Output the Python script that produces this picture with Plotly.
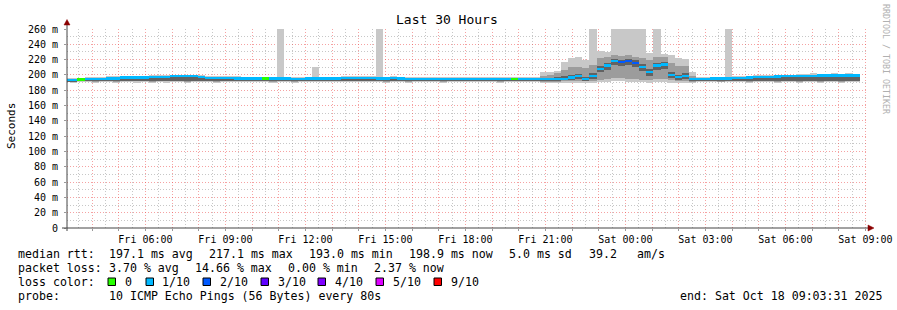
import plotly.graph_objects as go
import pandas as pd

# ---------------- data (16-minute bins, values in ms) ----------------
BIN_START = "2025-10-17 02:55:00"
BIN_MINUTES = 16
X_RANGE = ["2025-10-17 03:03:31", "2025-10-18 09:03:31"]

med = [193.5,193.5,194.3,194.6,194.6,195.0,195.5,195.5,196.5,196.5,196.5,196.7,197.5,197.5,197.5,198.3,
       198.5,198.5,198.3,197.5,196.0,195.8,195.8,195.8,195.5,195.5,195.5,195.5,195.5,195.5,195.2,195.5,
       194.5,194.5,195.5,195.5,195.5,195.5,195.5,195.8,196.2,196.2,196.0,195.8,195.5,195.5,196.0,195.5,
       194.5,194.5,195.0,195.0,194.8,194.8,194.8,194.8,195.0,195.0,195.0,195.0,194.8,194.8,195.0,195.0,
       194.5,194.5,194.5,
       194.5,194.5,194.5,194.5,196.5,198.5,194.5,198.5,208.0,212.3,218.3,217.0,218.3,215.8,210.0,203.5,
       212.3,213.5,200.0,197.0,198.5,194.8,
       194.8,195.0,195.2,195.3,195.5,195.8,196.0,196.8,197.2,197.3,197.5,198.0,198.5,198.5,198.7,198.7,
       198.8,199.0,199.2,199.3,199.3,199.5,199.3]

lo = [190.5,190.0,190.5,190.5,190.0,190.5,190.5,190.0,190.5,190.5,190.0,190.5,190.0,190.5,190.0,190.5,
      190.5,190.0,190.5,190.5,190.5,190.0,190.5,190.5,190.5,190.5,190.5,190.5,190.5,190.0,190.5,190.5,
      190.0,190.5,190.5,190.5,190.5,190.5,190.5,190.5,190.5,190.5,190.5,190.5,190.5,190.0,190.5,190.5,
      190.0,190.5,190.5,190.5,190.5,190.0,190.5,190.5,190.5,190.5,190.5,190.5,190.5,190.0,190.5,190.5,
      190.5,190.5,190.5,
      190.0,190.0,190.0,190.0,190.0,190.0,190.0,190.0,191.0,191.0,192.0,192.0,191.0,191.0,191.0,190.0,
      191.0,191.0,190.0,190.0,190.0,190.0,
      190.5,190.5,190.5,190.5,190.5,190.5,190.5,190.0,190.5,190.5,190.5,190.0,190.5,190.5,190.0,190.5,
      190.5,190.0,190.5,190.5,190.0,190.5,190.5]

mlo = [191.0,191.0,191.5,191.5,191.0,191.5,191.5,191.0,191.5,191.5,191.5,191.5,191.0,191.5,191.5,191.5,
       191.5,191.0,191.5,191.5,191.5,191.0,191.5,191.5,191.5,191.5,191.5,191.5,191.5,191.0,191.5,191.5,
       191.0,191.5,191.5,191.5,191.5,191.5,191.5,191.5,191.5,191.5,191.5,191.5,191.5,191.0,191.5,191.5,
       191.0,191.5,191.5,191.5,191.5,191.0,191.5,191.5,191.5,191.5,191.5,191.5,191.5,191.0,191.5,191.5,
       191.5,191.5,191.5,
       191.0,191.0,191.0,191.5,192.0,192.0,191.5,192.0,194.0,195.0,196.0,196.0,195.0,195.0,194.0,193.0,
       195.0,195.0,193.0,192.0,192.0,191.0,
       191.5,191.5,191.5,191.0,191.5,191.5,191.5,191.0,191.5,191.5,191.5,191.0,191.5,191.5,191.0,191.5,
       191.5,191.0,191.5,191.5,191.0,191.5,191.5]

ilo = [192.0,191.5,192.5,192.5,192.0,192.5,192.0,192.5,192.0,192.5,192.0,192.5,192.5,192.0,192.5,192.5,
       192.0,192.5,192.0,192.5,192.5,192.0,192.5,192.5,192.0,192.5,192.5,192.0,192.5,192.5,192.0,192.5,
       192.5,192.0,192.5,192.5,192.5,192.0,192.5,192.5,192.5,192.5,192.5,192.5,192.5,192.0,192.5,192.5,
       192.0,192.5,192.5,192.5,192.5,192.0,192.5,192.5,192.5,192.5,192.5,192.5,192.5,192.0,192.5,192.5,
       192.5,192.5,192.5,
       192.5,192.5,192.5,193.0,194.0,195.0,192.5,195.0,204.0,207.0,213.0,212.0,213.0,210.0,205.0,199.0,
       207.0,208.0,196.0,194.0,195.0,192.5,
       192.5,192.5,192.0,192.5,192.5,192.5,192.0,192.5,192.5,192.5,192.0,192.5,192.5,192.0,192.5,192.5,
       192.5,192.0,192.5,192.5,192.0,192.5,192.5]

ihi = [194.0,194.0,194.8,195.1,195.1,195.5,196.0,196.0,197.0,197.0,197.0,197.2,198.0,198.0,198.0,198.8,
       199.0,199.0,198.8,198.0,196.5,196.3,196.3,196.3,196.0,196.0,196.0,196.0,196.0,196.0,195.7,196.0,
       195.0,195.0,196.0,196.0,196.0,196.0,196.0,196.3,196.7,196.7,196.5,196.3,196.0,196.0,196.5,196.0,
       195.0,195.0,195.5,195.5,195.3,195.3,195.3,195.3,195.5,195.5,195.5,195.5,195.3,195.3,195.5,195.5,
       195.0,195.0,195.0,
       196.0,196.0,197.0,198.0,199.5,201.0,197.0,202.0,212.0,216.0,221.0,220.0,221.0,219.0,214.0,208.0,
       216.0,217.0,204.0,200.0,202.0,196.5,
       195.3,195.5,195.7,195.8,196.0,196.3,196.5,197.3,197.7,197.8,198.0,198.5,199.0,199.0,199.2,199.2,
       199.3,199.5,199.7,199.8,199.8,200.0,199.8]

mhi = [194.5,194.5,195.3,195.6,195.6,196.0,196.5,196.5,197.5,197.5,197.5,197.7,198.5,198.5,198.5,199.3,
       199.5,199.5,199.3,198.5,197.0,196.8,196.8,196.8,196.5,196.5,196.5,196.5,196.5,196.5,196.2,196.5,
       195.5,195.5,196.5,197.0,196.5,196.5,196.5,196.8,197.2,197.2,197.0,196.8,196.5,196.5,197.0,196.5,
       195.5,195.5,196.0,196.0,195.8,195.8,195.8,195.8,196.0,196.0,196.0,196.0,195.8,195.8,196.0,196.0,
       195.5,195.5,195.5,
       199.0,200.0,202.0,207.0,210.0,211.0,209.0,213.0,222.0,224.0,226.0,225.0,226.0,224.0,222.0,219.0,
       223.0,223.0,216.0,212.0,212.0,199.0,
       195.8,196.0,196.2,196.3,196.5,196.8,197.0,197.8,198.2,198.3,198.5,199.0,199.5,199.5,199.7,199.7,
       200.5,200.0,200.2,200.8,200.3,200.8,200.3]

hi = [195.5,196.0,196.5,197.0,197.0,197.5,198.0,198.0,198.5,198.5,198.5,199.0,199.5,199.5,200.0,200.5,
      200.5,200.5,200.0,199.5,198.5,198.0,198.0,198.0,198.0,197.5,197.5,197.5,197.5,197.5,300.0,197.5,
      197.0,197.0,197.5,210.0,197.5,197.5,197.5,198.0,198.5,198.5,198.0,198.0,300.0,197.5,198.0,197.5,
      197.0,197.0,197.0,197.5,197.0,197.0,197.0,197.0,197.0,197.0,197.5,197.0,197.0,197.0,197.0,197.0,
      197.0,197.0,197.5,
      203.5,203.5,205.5,217.0,221.5,223.0,220.0,300.0,231.0,230.0,300.0,300.0,300.0,300.0,300.0,229.0,
      300.0,227.0,226.0,222.0,221.0,203.5,
      197.0,197.0,197.5,197.5,300.0,198.0,198.5,199.0,199.5,199.5,199.8,200.0,200.5,200.5,200.7,200.7,
      202.5,201.0,201.2,202.5,201.3,202.5,201.3]

# loss per bin (pings lost out of 10)
loss = [1,1,0,1,1,1,1,1,1,1,1,1,1,1,1,1,
        1,1,1,1,1,1,1,1,1,1,1,1,0,1,1,1,
        1,1,1,1,1,1,1,1,1,1,1,1,1,1,1,1,
        1,1,1,1,1,1,1,1,1,1,1,1,1,1,1,0,
        1,1,1,1,1,1,1,1,1,1,1,1,1,1,2,2,
        2,1,1,1,1,1,1,1,1,1,1,1,1,1,1,1,
        1,1,1,1,1,1,1,1,1,1,1,1,1,1,1,1]

loss_levels = ["0", "1/10", "2/10", "3/10", "4/10", "5/10", "9/10"]
loss_values = [0, 1, 2, 3, 4, 5, 9]
loss_colors = ["#26ff00", "#00b8ff", "#0059ff", "#5e00ff", "#7e00ff", "#dd00ff", "#ff0000"]

y_ticks = [0, 20, 40, 60, 80, 100, 120, 140, 160, 180, 200, 220, 240, 260]
y_ticktext = ["0"] + [f"{v} m" for v in y_ticks[1:]]

title = "Last 30 Hours"
line1 = [("median rtt:", 16), ("197.1 ms avg", 107), ("217.1 ms max", 207),
         ("193.0 ms min", 307), ("198.9 ms now", 407), ("5.0 ms sd", 507),
         ("39.2", 587), ("am/s", 635)]
line2 = [("packet loss:", 16), ("3.70 % avg", 107), ("14.66 % max", 193),
         ("0.00 % min", 286), ("2.37 % now", 372)]
line4 = [("probe:", 16), ("10 ICMP Echo Pings (56 Bytes) every 80s", 107),
         ("end: Sat Oct 18 09:03:31 2025", 678)]

# ---------------- layout geometry (pixels) ----------------
W, H = 897, 310
PL, PR, PT, PB = 67, 867, 29, 228
FONT = "DejaVu Sans Mono"


def px(x, y):
    return (x - PL) / (PR - PL), (PB - y) / (PB - PT)


t0 = pd.Timestamp(BIN_START)
times = [t0 + pd.Timedelta(minutes=BIN_MINUTES * i) for i in range(len(med))]
width_ms = BIN_MINUTES * 60 * 1000

fig = go.Figure()

layers = [(lo, hi, "#c8c8c8"), (mlo, mhi, "#9c9c9c"), (ilo, ihi, "#626262")]
for low, high, col in layers:
    fig.add_trace(go.Bar(
        x=times, y=[h - l for l, h in zip(low, high)], base=low,
        width=width_ms, offset=0,
        marker=dict(color=col, line=dict(width=0)),
        hoverinfo="skip", showlegend=False))

cmap = dict(zip(loss_values, loss_colors))
band = 3.2
fig.add_trace(go.Bar(
    x=times, y=[band] * len(med), base=[m - band / 2 for m in med],
    width=width_ms, offset=0,
    marker=dict(color=[cmap[v] for v in loss], line=dict(width=0)),
    hoverinfo="skip", showlegend=False))

# x ticks: grid every hour, labels every 3 hours
hours = pd.date_range("2025-10-17 04:00", "2025-10-18 09:00", freq="1h")
xt_text = [h.strftime("%a %H:%M") if h.hour % 3 == 0 else "" for h in hours]

MAJ = "rgba(235,70,70,0.5)"
MIN = "rgba(130,130,130,0.45)"
DASH = "1px,2px"

fig.update_layout(
    width=W, height=H, autosize=False,
    margin=dict(l=PL, r=W - PR, t=PT, b=H - PB, pad=0, autoexpand=False),
    paper_bgcolor="white", plot_bgcolor="white",
    barmode="overlay", bargap=0,
    showlegend=False,
    font=dict(family=FONT, size=10, color="#000"),
    xaxis=dict(
        type="date", range=X_RANGE, automargin=False,
        tickmode="array", tickvals=list(hours), ticktext=xt_text,
        showgrid=True, gridcolor=MAJ, griddash=DASH, gridwidth=1,
        minor=dict(dtick=3600000, tick0="2025-10-17 00:30", showgrid=True,
                   gridcolor=MIN, griddash=DASH, gridwidth=1, ticks=""),
        ticks="outside", ticklen=2, tickcolor="#999",
        showline=False, zeroline=False,
        tickfont=dict(family=FONT, size=10, color="#000"),
        fixedrange=True,
    ),
    yaxis=dict(
        range=[0, 260], tickmode="array", tickvals=y_ticks, ticktext=y_ticktext,
        automargin=False,
        showgrid=True, gridcolor=MAJ, griddash=DASH, gridwidth=1,
        minor=dict(dtick=20, tick0=10, showgrid=True, gridcolor=MIN,
                   griddash=DASH, gridwidth=1, ticks=""),
        ticks="outside", ticklen=2, tickcolor="#999",
        ticklabelstandoff=4,
        showline=False, zeroline=False,
        tickfont=dict(family=FONT, size=10, color="#000"),
        fixedrange=True,
    ),
)

ann = []


def add_text(text, x, y, size=11.6, xanchor="left", color="#000", angle=0):
    xp, yp = px(x, y)
    ann.append(dict(text=text.replace(" ", "\u00a0"), x=xp, y=yp, xref="paper", yref="paper",
                    xanchor=xanchor, yanchor="middle", showarrow=False, textangle=angle,
                    font=dict(family=FONT, size=size, color=color)))


add_text(title, 447, 19, size=13, xanchor="center")
add_text("Seconds", 11, 126, size=11, xanchor="center", angle=-90)
add_text("RRDTOOL / TOBI OETIKER", 886, 59, size=8.3, xanchor="center", color="#b0b0b0", angle=90)

for txt, x in line1:
    add_text(txt, x, 254)
for txt, x in line2:
    add_text(txt, x, 268)
add_text("loss color:", 16, 282)
sq_x = [108, 146, 203, 261, 318, 376, 434]
lab_x = [123, 160, 218, 276, 333, 391, 449]
shapes = []
for lbl, col, sx, lx in zip(loss_levels, loss_colors, sq_x, lab_x):
    add_text(lbl, lx, 282)
    x0, y0 = px(sx, 285.5)
    x1, y1 = px(sx + 7.5, 278)
    shapes.append(dict(type="rect", xref="paper", yref="paper", x0=x0, y0=y0, x1=x1, y1=y1,
                       fillcolor=col, line=dict(color="#000", width=1)))
for txt, x in line4:
    add_text(txt, x, 296)

# axis lines with arrows
AX = "#444"
xa, ya = px(PL, 231)
xb, yb = px(PL, 24)
shapes.append(dict(type="line", xref="paper", yref="paper", x0=xa, y0=ya, x1=xb, y1=yb,
                   line=dict(color=AX, width=1)))
xa, ya = px(62, PB)
xb, yb = px(870, PB)
shapes.append(dict(type="line", xref="paper", yref="paper", x0=xa, y0=ya, x1=xb, y1=yb,
                   line=dict(color=AX, width=1)))


def tri(pts):
    p = [px(a, b) for a, b in pts]
    return "M {} {} L {} {} L {} {} Z".format(p[0][0], p[0][1], p[1][0], p[1][1], p[2][0], p[2][1])


shapes.append(dict(type="path", xref="paper", yref="paper", path=tri([(64, 25), (70, 25), (67, 19.5)]),
                   fillcolor="#8b0000", line=dict(color="#8b0000", width=0.5)))
shapes.append(dict(type="path", xref="paper", yref="paper", path=tri([(868, 225), (868, 231), (874, 228)]),
                   fillcolor="#8b0000", line=dict(color="#8b0000", width=0.5)))

fig.update_layout(annotations=ann, shapes=shapes)

fig.write_html("out.html")
